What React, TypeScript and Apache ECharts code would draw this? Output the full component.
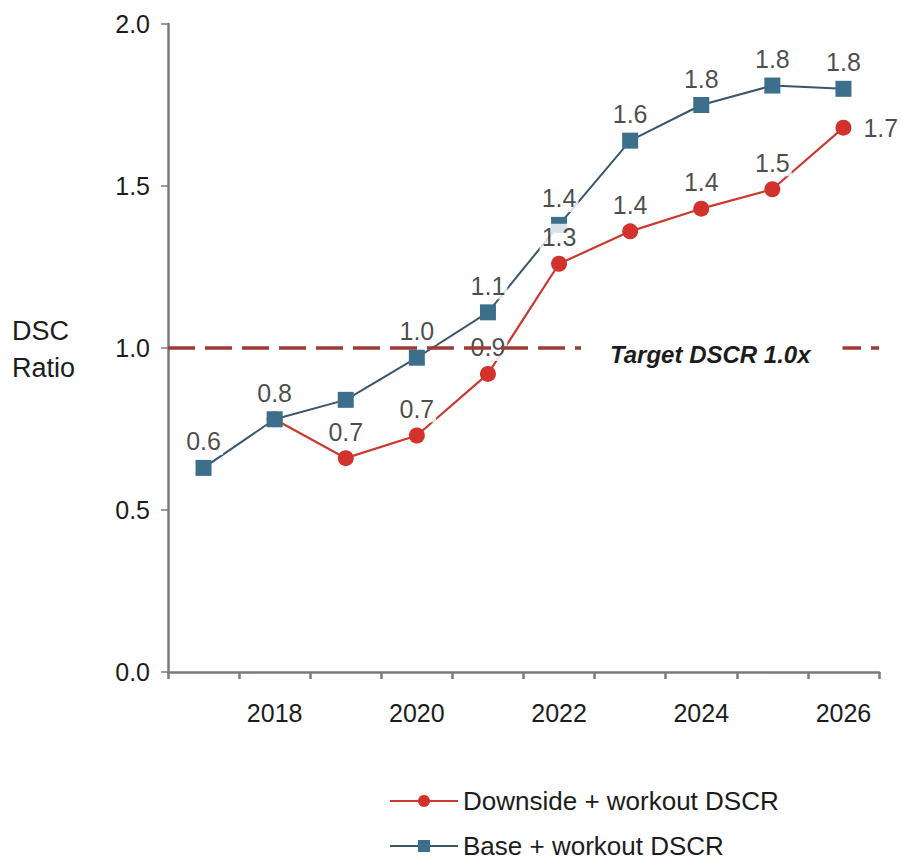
import React, { useEffect, useRef } from "react";
import * as echarts from "echarts";

const years = ["2017", "2018", "2019", "2020", "2021", "2022", "2023", "2024", "2025", "2026"];
const baseValues = [0.63, 0.78, 0.84, 0.97, 1.11, 1.38, 1.64, 1.75, 1.81, 1.8];
const downsideValues: (number | string)[] = ["-", 0.78, 0.66, 0.73, 0.92, 1.26, 1.36, 1.43, 1.49, 1.68];
const baseLabelShown = [true, true, false, true, true, true, true, true, true, true];
const downsideLabelShown = [false, false, true, true, true, true, true, true, true, true];
const yTicks = [0, 0.5, 1.0, 1.5, 2.0];
const targetValue = 1.0;

const FONT = "Liberation Sans, Arial, sans-serif";
const RED = "#d2322b";
const RED_LINE = "#c93a30";
const BLUE_LINE = "#3a566c";
const BLUE_MARK = "#3d6e8c";
const TARGET = "#9e3b3a";
const TEXT = "#1c1c1c";

export default function App() {
  const ref = useRef<HTMLDivElement>(null);
  useEffect(() => {
    if (!ref.current) return;
    const chart = echarts.init(ref.current, null, { renderer: "svg" });
    const labelStyle = {
      show: true,
      position: "top",
      distance: 5,
      fontSize: 25,
      fontFamily: FONT,
      color: TEXT,
      backgroundColor: "#fff",
      padding: [1, 2],
      formatter: (p: any) => Number(p.value).toFixed(1),
    };
    const labelSeries = (name: string, values: (number | string)[], shown: boolean[], lastRight: boolean) => ({
      name,
      type: "scatter",
      data: values.map((v, i) => ({
        value: v,
        label: {
          ...labelStyle,
          show: shown[i],
          ...(lastRight && i === values.length - 1 ? { position: "right", distance: 10 } : {}),
        },
      })),
      symbol: "circle",
      symbolSize: 16,
      itemStyle: { color: "rgba(0,0,0,0)" },
      silent: true,
      z: 4,
    });
    chart.setOption({
      animation: false,
      backgroundColor: "#fff",
      textStyle: { fontFamily: FONT },
      grid: { left: 168, right: 22, top: 24, bottom: 192, containLabel: false },
      xAxis: {
        type: "category",
        data: years,
        boundaryGap: true,
        axisLine: { lineStyle: { color: "#7a7a7a", width: 2.5 } },
        axisTick: { show: true, interval: 0, length: 7, lineStyle: { color: "#7a7a7a", width: 2.5 } },
        axisLabel: {
          interval: (i: number) => i % 2 === 1,
          fontSize: 25,
          color: TEXT,
          margin: 28,
          fontFamily: FONT,
        },
        splitLine: { show: false },
      },
      yAxis: {
        type: "value",
        min: yTicks[0],
        max: yTicks[yTicks.length - 1],
        interval: 0.5,
        axisLine: { show: true, lineStyle: { color: "#7a7a7a", width: 2.5 } },
        axisTick: { show: true, length: 7, lineStyle: { color: "#7a7a7a", width: 1.5 } },
        axisLabel: {
          fontSize: 25,
          color: TEXT,
          margin: 18,
          fontFamily: FONT,
          formatter: (v: number) => v.toFixed(1),
        },
        splitLine: { show: false },
      },
      legend: {
        orient: "vertical",
        left: 389,
        top: 788,
        height: 120,
        padding: 0,
        itemGap: 19,
        itemWidth: 68,
        itemHeight: 15,
        textStyle: { fontSize: 26, lineHeight: 26, color: TEXT, fontFamily: FONT },
        data: ["Downside + workout DSCR", "Base + workout DSCR"],
      },
      series: [
        {
          name: "Downside + workout DSCR",
          type: "line",
          data: downsideValues,
          symbol: "circle",
          symbolSize: 16,
          lineStyle: { color: RED_LINE, width: 2.2 },
          itemStyle: { color: RED },
          label: { show: false },
          z: 2,
        },
        {
          name: "Base + workout DSCR",
          type: "line",
          data: baseValues,
          symbol: "rect",
          symbolSize: 16,
          lineStyle: { color: BLUE_LINE, width: 2 },
          itemStyle: { color: BLUE_MARK },
          label: { show: false },
          z: 3,
          markLine: {
            silent: true,
            symbol: "none",
            label: { show: false },
            lineStyle: { color: TARGET, width: 3.5, type: [27, 10] },
            data: [{ yAxis: targetValue }],
            z: 5,
          },
        },
        labelSeries("downsideLabels", downsideValues, downsideLabelShown, true),
        labelSeries("baseLabels", baseValues, baseLabelShown, false),
      ],
      graphic: [
        {
          type: "text",
          left: 12,
          top: 312,
          style: {
            text: "DSC\nRatio",
            fontSize: 27,
            lineHeight: 37,
            fill: TEXT,
            fontFamily: FONT,
          },
        },
        {
          type: "text",
          left: 581,
          top: 339,
          z: 10,
          style: {
            text: "Target DSCR 1.0x",
            fontSize: 24,
            fontStyle: "italic",
            fontWeight: "bold",
            fill: TEXT,
            fontFamily: FONT,
            backgroundColor: "#fff",
            padding: [3, 32, 2, 29],
          },
        },
      ],
    });
    return () => chart.dispose();
  }, []);
  return <div ref={ref} style={{ width: 901, height: 864, position: "absolute", left: 0, top: 0 }} />;
}
